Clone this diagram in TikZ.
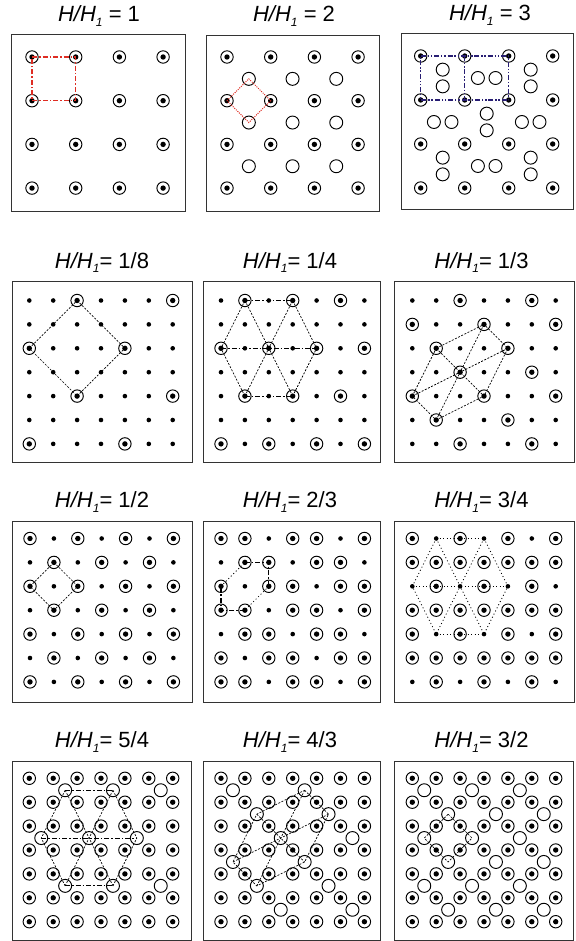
\documentclass[tikz,border=0pt]{standalone}
\usepackage{fontspec}
\setmainfont{Liberation Sans}
\definecolor{chainred}{RGB}{222,45,35}
\definecolor{chainblue}{RGB}{40,30,115}
\newcommand{\hh}{\textit{H/H}\raisebox{-4.5pt}{\fontsize{12}{12}\selectfont\textit{1}}}

\begin{document}
\begin{tikzpicture}[
    x=1pt, y=-1pt,
    panel/.style={draw=black!80, line width=0.8pt},
    heading/.style={font=\fontsize{22}{26}\selectfont, anchor=base, inner sep=0pt},
    pinned/.style={circle, draw, line width=0.95pt, minimum size=12.4pt, inner sep=0pt,
                   path picture={\fill (path picture bounding box.center) circle[radius=2.7pt];}},
    site/.style={circle, fill, minimum size=4.6pt, inner sep=0pt},
    hole/.style={circle, draw, line width=0.95pt, minimum size=13pt, inner sep=0pt},
    fineline/.style={line width=0.7pt, dash pattern=on 2pt off 1.5pt},
    chainline/.style={line width=1.1pt, dash pattern=on 5pt off 2pt on 1.5pt off 2pt},
    dotline/.style={line width=0.8pt, dash pattern=on 1pt off 2.5pt},
    redline/.style={chainline, draw=chainred},
    reddots/.style={draw=chainred, line width=1pt, dash pattern=on 1pt off 1.2pt},
    blueline/.style={draw=chainblue, line width=1.2pt,
                     dash pattern=on 5pt off 1.8pt on 1.5pt off 1.8pt on 1.5pt off 1.8pt}
]
    \useasboundingbox (0,0) rectangle (575,941);

    % titles
    \node[heading] (t1) at (99,22) {\hh{} = 1};
    \node[heading] (t2) at (294,22) {\hh{} = 2};
    \node[heading] (t3) at (490,21) {\hh{} = 3};
    \node[heading] (t4) at (102,268) {\hh= 1/8};
    \node[heading] (t5) at (290,268) {\hh= 1/4};
    \node[heading] (t6) at (481.5,268) {\hh= 1/3};
    \node[heading] (t7) at (102,507.7) {\hh= 1/2};
    \node[heading] (t8) at (290,507.7) {\hh= 2/3};
    \node[heading] (t9) at (481.5,507.7) {\hh= 3/4};
    \node[heading] (t10) at (102,747.7) {\hh= 5/4};
    \node[heading] (t11) at (290,747.7) {\hh= 4/3};
    \node[heading] (t12) at (481.5,747.7) {\hh= 3/2};

    % frames
    \draw[panel] (11,34) rectangle (185,211);
    \draw[panel] (206,35) rectangle (379,211);
    \draw[panel] (401,33) rectangle (573,209);
    \draw[panel] (12,281) rectangle (192,462);
    \draw[panel] (203,281) rectangle (380,462);
    \draw[panel] (394,281) rectangle (574,462);
    \draw[panel] (12,521) rectangle (192,702);
    \draw[panel] (203,521) rectangle (380,702);
    \draw[panel] (394,521) rectangle (574,702);
    \draw[panel] (12,761) rectangle (191,940);
    \draw[panel] (203,761) rectangle (380,940);
    \draw[panel] (394,761) rectangle (573,940);

    % H/H1 = 1
    \begin{scope}[shift={(32pt,-57pt)}, x=43.7pt, y=-43.7pt]
        \foreach \row in {0,...,3} \foreach \col in {0,...,3}
            \node[pinned] (a-\row-\col) at (\col,\row) {};
        \draw[redline] (a-0-0.center) -- (a-0-1.center) -- (a-1-1.center) -- (a-1-0.center) -- cycle;
    \end{scope}

    % H/H1 = 2
    \begin{scope}[shift={(227pt,-57pt)}, x=43.7pt, y=-43.7pt]
        \foreach \row in {0,...,3} \foreach \col in {0,...,3}
            \node[pinned] (b-\row-\col) at (\col,\row) {};
        \foreach \row in {0,1,2} \foreach \col in {0,1,2}
            \node[hole] (b-v-\row-\col) at (\col+0.5,\row+0.5) {};
        \draw[reddots] (b-1-0.center) -- (b-v-0-0.center) -- (b-1-1.center) -- (b-v-1-0.center) -- cycle;
    \end{scope}

    % H/H1 = 3
    \begin{scope}[shift={(420.7pt,-56pt)}, x=44pt, y=-44pt]
        \foreach \row in {0,...,3} \foreach \col in {0,...,3}
            \node[pinned] (c-\row-\col) at (\col,\row) {};
        \foreach \row in {0,1,2} \foreach \col in {0,1,2} {
            \pgfmathtruncatemacro\kind{mod(\row+\col,2)}
            \ifnum\kind=0
                \node[hole] (c-v-\row-\col-1) at (\col+0.5,\row+0.31) {};
                \node[hole] (c-v-\row-\col-2) at (\col+0.5,\row+0.69) {};
            \else
                \node[hole] (c-v-\row-\col-1) at (\col+0.3,\row+0.5) {};
                \node[hole] (c-v-\row-\col-2) at (\col+0.7,\row+0.5) {};
            \fi
        }
        \draw[blueline] (c-0-0.center) -- (c-0-2.center) -- (c-1-2.center) -- (c-1-0.center) -- cycle;
        \draw[blueline] (c-0-1.center) -- (c-1-1.center);
    \end{scope}

    % H/H1 = 1/8
    \begin{scope}[shift={(29.3pt,-300.5pt)}, x=23.9pt, y=-23.9pt]
        \foreach \row in {0,...,6} \foreach \col in {0,...,6} {
            \pgfmathtruncatemacro\kind{and(mod(\row,2)==0, mod(\row+\col,4)==2)}
            \ifnum\kind=1 \node[pinned] (d-\row-\col) at (\col,\row) {};
            \else \node[site] (d-\row-\col) at (\col,\row) {}; \fi
        }
        \draw[fineline] (d-0-2.center) -- (d-2-4.center) -- (d-4-2.center) -- (d-2-0.center) -- cycle;
    \end{scope}

    % H/H1 = 1/4
    \begin{scope}[shift={(221pt,-300.5pt)}, x=23.9pt, y=-23.9pt]
        \foreach \row in {0,...,6} \foreach \col in {0,...,6} {
            \pgfmathtruncatemacro\kind{mod(\row+2*\col,4)==2}
            \ifnum\kind=1 \node[pinned] (e-\row-\col) at (\col,\row) {};
            \else \node[site] (e-\row-\col) at (\col,\row) {}; \fi
        }
        \draw[fineline] (e-0-1.center) -- (e-2-0.center) -- (e-4-1.center);
        \draw[fineline] (e-0-3.center) -- (e-2-4.center) -- (e-4-3.center);
        \draw[fineline] (e-0-1.center) -- (e-2-2.center) -- (e-4-3.center);
        \draw[fineline] (e-0-3.center) -- (e-2-2.center) -- (e-4-1.center);
        \draw[chainline] (e-0-1.center) -- (e-0-3.center);
        \draw[chainline] (e-2-0.center) -- (e-2-4.center);
        \draw[chainline] (e-4-1.center) -- (e-4-3.center);
    \end{scope}

    % H/H1 = 1/3
    \begin{scope}[shift={(412.3pt,-300.5pt)}, x=23.9pt, y=-23.9pt]
        \foreach \row in {0,...,6} \foreach \col in {0,...,6} {
            \pgfmathtruncatemacro\kind{mod(\col-\row+9,3)==2}
            \ifnum\kind=1 \node[pinned] (f-\row-\col) at (\col,\row) {};
            \else \node[site] (f-\row-\col) at (\col,\row) {}; \fi
        }
        \draw[fineline] (f-2-1.center) -- (f-1-3.center) -- (f-2-4.center) -- (f-4-3.center)
            -- (f-5-1.center) -- (f-4-0.center) -- cycle;
        \draw[fineline] (f-1-3.center) -- (f-5-1.center);
        \draw[fineline] (f-2-1.center) -- (f-4-3.center);
        \draw[fineline] (f-4-0.center) -- (f-2-4.center);
    \end{scope}

    % H/H1 = 1/2
    \begin{scope}[shift={(30pt,-538.5pt)}, x=23.9pt, y=-23.9pt]
        \foreach \row in {0,...,6} \foreach \col in {0,...,6} {
            \pgfmathtruncatemacro\kind{mod(\row+\col,2)==0}
            \ifnum\kind=1 \node[pinned] (g-\row-\col) at (\col,\row) {};
            \else \node[site] (g-\row-\col) at (\col,\row) {}; \fi
        }
        \draw[fineline] (g-1-1.center) -- (g-2-2.center) -- (g-3-1.center) -- (g-2-0.center) -- cycle;
    \end{scope}

    % H/H1 = 2/3
    \begin{scope}[shift={(221pt,-538.5pt)}, x=23.9pt, y=-23.9pt]
        \foreach \row in {0,...,6} \foreach \col in {0,...,6} {
            \pgfmathtruncatemacro\kind{mod(\col-\row+9,3)==2}
            \ifnum\kind=0 \node[pinned] (h-\row-\col) at (\col,\row) {};
            \else \node[site] (h-\row-\col) at (\col,\row) {}; \fi
        }
        \draw[chainline] (h-1-1.center) -- (h-1-2.center) -- (h-2-2.center);
        \draw[chainline] (h-3-1.center) -- (h-3-0.center) -- (h-2-0.center);
        \draw[dotline] (h-2-2.center) -- (h-3-1.center);
        \draw[dotline] (h-2-0.center) -- (h-1-1.center);
    \end{scope}

    % H/H1 = 3/4
    \begin{scope}[shift={(412.3pt,-538.5pt)}, x=23.9pt, y=-23.9pt]
        \foreach \row in {0,...,6} \foreach \col in {0,...,6} {
            \pgfmathtruncatemacro\kind{mod(\row+2*\col,4)==2}
            \ifnum\kind=0 \node[pinned] (i-\row-\col) at (\col,\row) {};
            \else \node[site] (i-\row-\col) at (\col,\row) {}; \fi
        }
        \draw[dotline] (i-0-1.center) -- (i-2-0.center) -- (i-4-1.center);
        \draw[dotline] (i-0-3.center) -- (i-2-4.center) -- (i-4-3.center);
        \draw[dotline] (i-0-1.center) -- (i-2-2.center) -- (i-4-3.center);
        \draw[dotline] (i-0-3.center) -- (i-2-2.center) -- (i-4-1.center);
        \draw[dotline] (i-0-1.center) -- (i-0-3.center);
        \draw[dotline] (i-2-0.center) -- (i-2-4.center);
        \draw[dotline] (i-4-1.center) -- (i-4-3.center);
    \end{scope}

    % H/H1 = 5/4
    \begin{scope}[shift={(29.3pt,-778.3pt)}, x=23.9pt, y=-23.9pt]
        \foreach \row in {0,...,6} \foreach \col in {0,...,6}
            \node[pinned] (j-\row-\col) at (\col,\row) {};
        \foreach \row/\col in {0/1,0/3,0/5,2/0,2/2,2/4,4/1,4/3,4/5}
            \node[hole] (j-v-\row-\col) at (\col+0.5,\row+0.5) {};
        \draw[fineline] (j-v-0-1.center) -- (j-v-2-0.center) -- (j-v-4-1.center);
        \draw[fineline] (j-v-0-3.center) -- (j-v-2-4.center) -- (j-v-4-3.center);
        \draw[fineline] (j-v-0-1.center) -- (j-v-2-2.center) -- (j-v-4-3.center);
        \draw[fineline] (j-v-0-3.center) -- (j-v-2-2.center) -- (j-v-4-1.center);
        \draw[chainline] (j-v-0-1.center) -- (j-v-0-3.center);
        \draw[chainline] (j-v-2-0.center) -- (j-v-2-4.center);
        \draw[chainline] (j-v-4-1.center) -- (j-v-4-3.center);
    \end{scope}

    % H/H1 = 4/3
    \begin{scope}[shift={(221pt,-778.3pt)}, x=23.9pt, y=-23.9pt]
        \foreach \row in {0,...,6} \foreach \col in {0,...,6}
            \node[pinned] (k-\row-\col) at (\col,\row) {};
        \foreach \row in {0,...,5} \foreach \col in {0,...,5} {
            \pgfmathtruncatemacro\kind{mod(\col-\row+6,3)==0}
            \ifnum\kind=1 \node[hole] (k-v-\row-\col) at (\col+0.5,\row+0.5) {}; \fi
        }
        \draw[fineline] (k-v-0-3.center) -- (k-v-1-4.center) -- (k-v-3-3.center) -- (k-v-4-1.center)
            -- (k-v-3-0.center) -- (k-v-1-1.center) -- cycle;
        \draw[fineline] (k-v-0-3.center) -- (k-v-4-1.center);
        \draw[fineline] (k-v-1-1.center) -- (k-v-3-3.center);
        \draw[fineline] (k-v-3-0.center) -- (k-v-1-4.center);
    \end{scope}

    % H/H1 = 3/2
    \begin{scope}[shift={(412.3pt,-778.3pt)}, x=23.9pt, y=-23.9pt]
        \foreach \row in {0,...,6} \foreach \col in {0,...,6}
            \node[pinned] (l-\row-\col) at (\col,\row) {};
        \foreach \row in {0,...,5} \foreach \col in {0,...,5} {
            \pgfmathtruncatemacro\kind{mod(\col+\row,2)==0}
            \ifnum\kind=1 \node[hole] (l-v-\row-\col) at (\col+0.5,\row+0.5) {}; \fi
        }
        \draw[fineline] (l-v-1-1.center) -- (l-v-2-2.center) -- (l-v-3-1.center) -- (l-v-2-0.center) -- cycle;
    \end{scope}
\end{tikzpicture}
\end{document}
